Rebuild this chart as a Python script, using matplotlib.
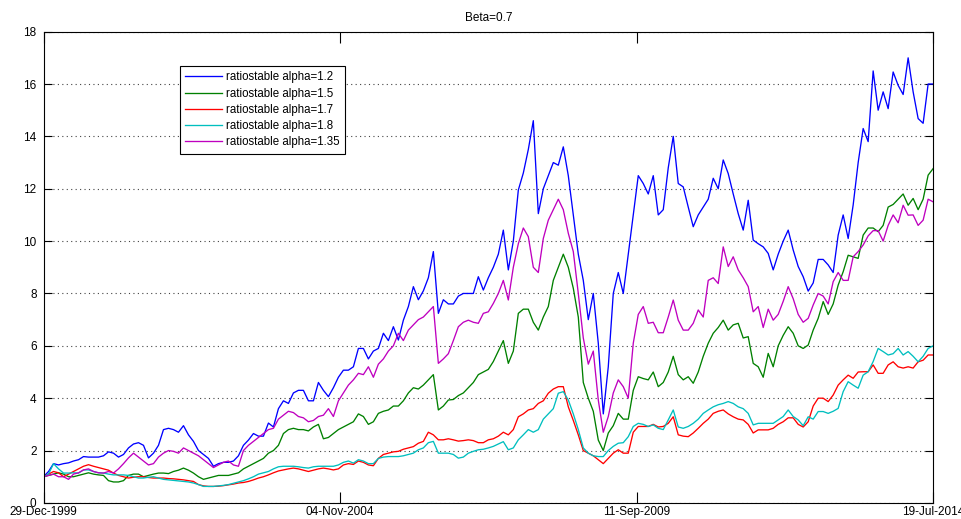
import numpy as np
import pandas as pd
import matplotlib.pyplot as plt
import matplotlib.dates as mdates

plt.rcParams['font.family'] = ['Liberation Sans', 'DejaVu Sans']

# cumulative value of each strategy, sampled roughly once a month
start_date = '1999-12-29'
end_date = '2014-07-19'

alpha_12 = [1.0, 1.2, 1.5, 1.45, 1.5, 1.53, 1.6, 1.65, 1.77, 1.75,
            1.75, 1.75, 1.8, 1.95, 1.9, 1.75, 1.85, 2.1, 2.25, 2.3,
            2.2, 1.72, 1.9, 2.2, 2.8, 2.85, 2.8, 2.7, 2.95, 2.6,
            2.35, 2.0, 1.85, 1.7, 1.4, 1.5, 1.55, 1.55, 1.6, 1.8,
            2.2, 2.4, 2.65, 2.55, 2.55, 3.05, 2.9, 3.6, 3.9, 3.8,
            4.2, 4.3, 4.3, 3.9, 3.9, 4.6, 4.3, 4.06, 4.4, 4.8,
            5.07, 5.07, 5.2, 5.9, 5.9, 5.5, 5.8, 5.9, 6.48, 6.2,
            6.73, 6.22, 6.98, 7.5, 8.26, 7.76, 8.1, 8.6, 9.6, 7.24,
            7.76, 7.6, 7.6, 7.9, 8.0, 8.0, 8.0, 8.64, 8.13, 8.6,
            9.0, 9.5, 10.42, 8.9, 10.0, 11.95, 12.6, 13.5, 14.6, 11.05,
            12.0, 12.5, 13.0, 12.9, 13.6, 12.5, 11.0, 9.5, 8.5, 7.0,
            8.0, 6.1, 3.4, 5.2, 8.0, 8.8, 8.0, 9.5, 11.0, 12.5,
            12.2, 11.8, 12.5, 11.0, 11.2, 12.8, 14.0, 12.2, 12.07, 11.3,
            10.55, 11.0, 11.3, 11.6, 12.4, 12.0, 13.1, 12.58, 11.8, 11.05,
            10.42, 11.56, 10.04, 9.9, 9.78, 9.53, 8.9, 9.5, 10.0, 10.42,
            9.66, 9.03, 8.64, 8.09, 8.4, 9.3, 9.3, 9.09, 8.8, 10.23,
            11.0, 10.1, 11.38, 13.0, 14.3, 13.8, 16.5, 15.0, 15.7, 15.06,
            16.46, 15.95, 15.6, 17.0, 15.7, 14.68, 14.5, 16.0, 16.0]

alpha_15 = [1.0, 1.05, 1.1, 1.15, 1.1, 1.0, 1.0, 1.05, 1.1, 1.15,
            1.1, 1.07, 1.05, 0.85, 0.8, 0.8, 0.85, 1.05, 1.1, 1.1,
            1.0, 1.05, 1.1, 1.14, 1.14, 1.12, 1.2, 1.25, 1.33, 1.25,
            1.14, 1.0, 0.9, 0.95, 1.0, 1.05, 1.05, 1.05, 1.1, 1.15,
            1.3, 1.4, 1.5, 1.6, 1.7, 1.9, 2.0, 2.2, 2.65, 2.8,
            2.85, 2.8, 2.8, 2.75, 2.9, 3.0, 2.45, 2.5, 2.65, 2.8,
            2.9, 3.0, 3.1, 3.4, 3.3, 3.0, 3.1, 3.42, 3.5, 3.55,
            3.7, 3.7, 3.9, 4.2, 4.4, 4.35, 4.5, 4.7, 4.9, 3.55,
            3.7, 3.93, 3.95, 4.1, 4.2, 4.4, 4.6, 4.9, 5.0, 5.1,
            5.4, 5.8, 6.2, 5.33, 5.8, 7.24, 7.4, 7.4, 6.9, 6.6,
            7.1, 7.5, 8.5, 9.0, 9.5, 9.0, 8.2, 7.1, 4.6, 4.0,
            3.5, 2.4, 2.0, 2.67, 2.95, 3.42, 3.2, 3.2, 4.3, 4.82,
            4.75, 4.7, 5.0, 4.44, 4.6, 5.0, 5.6, 4.9, 4.7, 4.82,
            4.57, 5.0, 5.6, 6.1, 6.48, 6.7, 6.98, 6.6, 6.8, 6.86,
            6.3, 6.35, 5.33, 5.2, 4.8, 5.71, 5.2, 6.0, 6.4, 6.73,
            6.48, 6.0, 5.9, 6.03, 6.6, 7.05, 7.69, 7.2, 7.6, 8.32,
            8.83, 9.46, 9.4, 9.34, 10.23, 10.5, 10.5, 10.36, 10.6, 11.3,
            11.4, 11.6, 11.8, 11.37, 11.63, 11.2, 11.6, 12.52, 12.77]

alpha_17 = [1.0, 1.1, 1.2, 1.15, 1.0, 1.1, 1.2, 1.3, 1.4, 1.46,
            1.4, 1.35, 1.3, 1.25, 1.14, 1.05, 1.0, 0.95, 0.98, 1.0,
            1.0, 0.97, 0.95, 0.95, 0.95, 0.93, 0.92, 0.9, 0.88, 0.85,
            0.82, 0.7, 0.65, 0.63, 0.63, 0.64, 0.66, 0.69, 0.72, 0.76,
            0.78, 0.82, 0.88, 0.95, 1.0, 1.07, 1.15, 1.22, 1.26, 1.3,
            1.33, 1.3, 1.25, 1.2, 1.25, 1.3, 1.33, 1.3, 1.26, 1.3,
            1.45, 1.5, 1.47, 1.6, 1.55, 1.45, 1.42, 1.7, 1.85, 1.9,
            1.95, 1.97, 2.05, 2.1, 2.15, 2.28, 2.35, 2.7, 2.6, 2.41,
            2.41, 2.45, 2.41, 2.36, 2.38, 2.41, 2.38, 2.3, 2.3, 2.41,
            2.45, 2.55, 2.7, 2.6, 2.8, 3.29, 3.4, 3.55, 3.6, 3.8,
            3.9, 4.19, 4.35, 4.44, 4.44, 3.67, 3.15, 2.6, 2.0, 1.9,
            1.8, 1.65, 1.5, 1.7, 1.9, 2.03, 1.9, 1.9, 2.7, 2.92,
            2.92, 2.92, 3.0, 2.9, 2.92, 3.04, 3.29, 2.6, 2.55, 2.53,
            2.67, 2.85, 3.04, 3.2, 3.42, 3.5, 3.55, 3.4, 3.29, 3.2,
            3.17, 3.0, 2.67, 2.79, 2.79, 2.79, 2.85, 3.0, 3.1, 3.25,
            3.25, 3.0, 2.9, 3.1, 3.7, 4.0, 4.0, 3.87, 4.12, 4.5,
            4.7, 4.88, 4.76, 5.0, 5.01, 5.01, 5.27, 4.95, 4.95, 5.27,
            5.39, 5.2, 5.15, 5.2, 5.15, 5.39, 5.45, 5.65, 5.65]

alpha_18 = [1.0, 1.1, 1.5, 1.3, 1.14, 1.14, 1.15, 1.14, 1.26, 1.26,
            1.2, 1.15, 1.14, 1.1, 1.07, 1.07, 1.07, 1.05, 1.0, 0.95,
            0.95, 0.98, 1.0, 0.95, 0.9, 0.88, 0.86, 0.84, 0.82, 0.8,
            0.76, 0.7, 0.63, 0.63, 0.63, 0.65, 0.67, 0.7, 0.75, 0.8,
            0.85, 0.92, 1.0, 1.1, 1.15, 1.2, 1.3, 1.38, 1.4, 1.4,
            1.4, 1.38, 1.35, 1.33, 1.38, 1.4, 1.4, 1.4, 1.4, 1.45,
            1.55, 1.6, 1.52, 1.65, 1.6, 1.5, 1.5, 1.7, 1.75, 1.77,
            1.77, 1.77, 1.8, 1.85, 1.9, 2.03, 2.1, 2.3, 2.35, 1.9,
            1.9, 1.9, 1.85, 1.71, 1.75, 1.9, 1.97, 2.03, 2.05, 2.1,
            2.16, 2.25, 2.34, 2.03, 2.1, 2.41, 2.6, 2.8, 2.7, 2.8,
            3.2, 3.4, 3.6, 4.19, 4.25, 3.93, 3.4, 2.8, 2.1, 1.9,
            1.8, 1.77, 1.77, 2.0, 2.16, 2.28, 2.3, 2.53, 2.92, 3.04,
            3.0, 2.92, 2.98, 2.85, 2.8, 3.17, 3.55, 2.9, 2.85, 2.92,
            3.04, 3.2, 3.42, 3.55, 3.67, 3.75, 3.8, 3.87, 3.8, 3.67,
            3.6, 3.42, 2.98, 3.04, 3.04, 3.04, 3.04, 3.17, 3.3, 3.55,
            3.3, 3.17, 2.95, 3.29, 3.2, 3.49, 3.49, 3.42, 3.5, 3.61,
            4.25, 4.63, 4.5, 4.38, 4.88, 5.01, 5.4, 5.9, 5.78, 5.65,
            5.7, 5.9, 5.65, 5.78, 5.6, 5.39, 5.6, 5.9, 6.0]

alpha_135 = [1.0, 1.05, 1.1, 1.0, 1.0, 0.9, 1.1, 1.15, 1.26, 1.3,
             1.2, 1.15, 1.14, 1.2, 1.14, 1.3, 1.5, 1.72, 1.9, 1.75,
             1.6, 1.45, 1.5, 1.75, 1.9, 2.0, 1.97, 1.9, 2.1, 2.0,
             1.9, 1.8, 1.65, 1.5, 1.35, 1.45, 1.55, 1.6, 1.45, 1.4,
             2.0, 2.2, 2.35, 2.5, 2.65, 2.8, 2.85, 3.2, 3.35, 3.5,
             3.45, 3.3, 3.25, 3.1, 3.15, 3.3, 3.35, 3.6, 3.3, 3.9,
             4.2, 4.5, 4.7, 4.95, 4.9, 5.2, 4.8, 5.3, 5.5, 5.8,
             6.0, 6.48, 6.2, 6.6, 6.8, 7.0, 7.1, 7.3, 7.5, 5.33,
             5.5, 5.7, 6.2, 6.73, 6.9, 6.98, 6.9, 6.86, 7.24, 7.3,
             7.62, 8.0, 8.5, 7.75, 9.0, 9.9, 10.5, 10.17, 9.0, 8.8,
             10.1, 10.8, 11.2, 11.6, 11.2, 10.3, 9.6, 8.0, 6.3, 5.3,
             5.8, 3.93, 2.7, 3.3, 4.2, 4.7, 4.44, 4.0, 6.1, 7.2,
             7.5, 6.86, 6.9, 6.5, 6.5, 7.1, 7.75, 6.98, 6.6, 6.6,
             6.86, 7.37, 7.1, 8.5, 8.6, 8.38, 9.78, 9.03, 9.4, 8.9,
             8.6, 8.26, 7.3, 7.5, 6.7, 7.4, 6.98, 7.2, 7.7, 8.26,
             7.8, 7.2, 6.9, 7.05, 7.56, 8.0, 7.9, 7.6, 8.45, 8.8,
             8.5, 8.5, 9.4, 9.6, 9.85, 10.2, 10.4, 10.4, 10.0, 10.6,
             11.0, 10.7, 11.37, 10.99, 11.0, 10.6, 10.8, 11.6, 11.5]

labels = ['ratiostable alpha=1.2', 'ratiostable alpha=1.5', 'ratiostable alpha=1.7',
          'ratiostable alpha=1.8', 'ratiostable alpha=1.35']
tick_dates = ['29-Dec-1999', '04-Nov-2004', '11-Sep-2009', '19-Jul-2014']

series = [alpha_12, alpha_15, alpha_17, alpha_18, alpha_135]
colors = ['#0000ff', '#008000', '#ff0000', '#00bfbf', '#bf00bf']

dates = pd.date_range(start_date, end_date, periods=len(alpha_12))

fig = plt.figure(figsize=(9.61, 5.19), dpi=100)
ax = fig.add_axes([0.0453, 0.031, 0.9257, 0.908])

for vals, c, lab in zip(series, colors, labels):
    ax.plot(dates, vals, color=c, lw=0.95, label=lab)

ax.set_xlim(pd.Timestamp(start_date), pd.Timestamp(end_date))
ax.set_ylim(0, 18)
ax.set_yticks(np.arange(0, 19, 2))
ax.set_xticks(pd.to_datetime(tick_dates, format='%d-%b-%Y'))
ax.xaxis.set_major_formatter(mdates.DateFormatter('%d-%b-%Y'))

ax.grid(axis='y', linestyle=(0, (1, 3)), color='#444444', lw=0.8)
ax.tick_params(axis='both', direction='in', labelsize=8.5, top=True, right=True)
ax.tick_params(axis='y', length=6, pad=5)
ax.tick_params(axis='x', length=8, pad=2)
for sp in ax.spines.values():
    sp.set_linewidth(0.8)

ax.set_title('Beta=0.7', fontsize=8.5, pad=8)

leg = ax.legend(loc='upper left', bbox_to_anchor=(0.1536, 0.9266), fontsize=8.3,
                fancybox=False, framealpha=1, edgecolor='black', borderaxespad=0,
                handlelength=3.2, handletextpad=0.35, labelspacing=0.37, borderpad=0.45)
leg.get_frame().set_linewidth(0.8)

fig.savefig('out.png', dpi=100)
